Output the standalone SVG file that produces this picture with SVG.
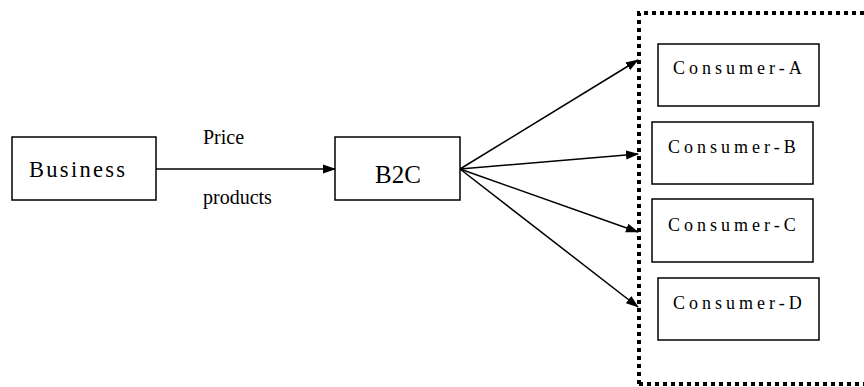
<svg xmlns="http://www.w3.org/2000/svg" width="864" height="387" viewBox="0 0 864 387">
<style>
.box{fill:#fff;stroke:#000;stroke-width:1.5}
.con{stroke:#000;stroke-width:1.5;fill:none}
.cons{font-family:"Liberation Serif",serif;font-size:18px;letter-spacing:4px}
.lbl{font-family:"Liberation Serif",serif;font-size:20px}
</style>
<defs>
<marker id="ah" markerWidth="13" markerHeight="10" refX="12" refY="5" orient="auto" markerUnits="userSpaceOnUse">
<path d="M0,0.5 L13,5 L0,9.5 Z" fill="#000"/>
</marker>
</defs>
<rect width="864" height="387" fill="#fff"/>
<g id="group-consumers">
<path d="M639,384 L639,13 L864,13 M639,384 L864,384" fill="none" stroke="#000" stroke-width="4" stroke-dasharray="4,4"/>
</g>
<g id="connectors">
<line class="con" x1="156" y1="169" x2="335" y2="169" marker-end="url(#ah)"/>
<line class="con" x1="460" y1="169" x2="638" y2="60" marker-end="url(#ah)"/>
<line class="con" x1="460" y1="169" x2="638" y2="154" marker-end="url(#ah)"/>
<line class="con" x1="460" y1="169" x2="638" y2="232" marker-end="url(#ah)"/>
<line class="con" x1="460" y1="169" x2="638" y2="307" marker-end="url(#ah)"/>
<text class="lbl" x="203" y="144">Price</text>
<text class="lbl" x="203" y="204">products</text>
</g>
<g id="business">
<rect class="box" x="12" y="137" width="144" height="63"/>
<text x="29" y="177" font-family="'Liberation Serif',serif" font-size="22.5" letter-spacing="2.3">Business</text>
</g>
<g id="b2c">
<rect class="box" x="335" y="137" width="125" height="63"/>
<text x="398" y="183" font-family="'Liberation Serif',serif" font-size="25" text-anchor="middle">B2C</text>
</g>
<g id="consumer-a">
<rect class="box" x="658" y="44" width="161" height="62"/>
<text class="cons" x="673" y="74">Consumer-A</text>
</g>
<g id="consumer-b">
<rect class="box" x="652" y="122" width="161" height="62"/>
<text class="cons" x="668" y="153">Consumer-B</text>
</g>
<g id="consumer-c">
<rect class="box" x="652" y="199" width="161" height="63"/>
<text class="cons" x="668" y="231">Consumer-C</text>
</g>
<g id="consumer-d">
<rect class="box" x="658" y="278" width="161" height="62"/>
<text class="cons" x="673" y="309">Consumer-D</text>
</g>
</svg>
